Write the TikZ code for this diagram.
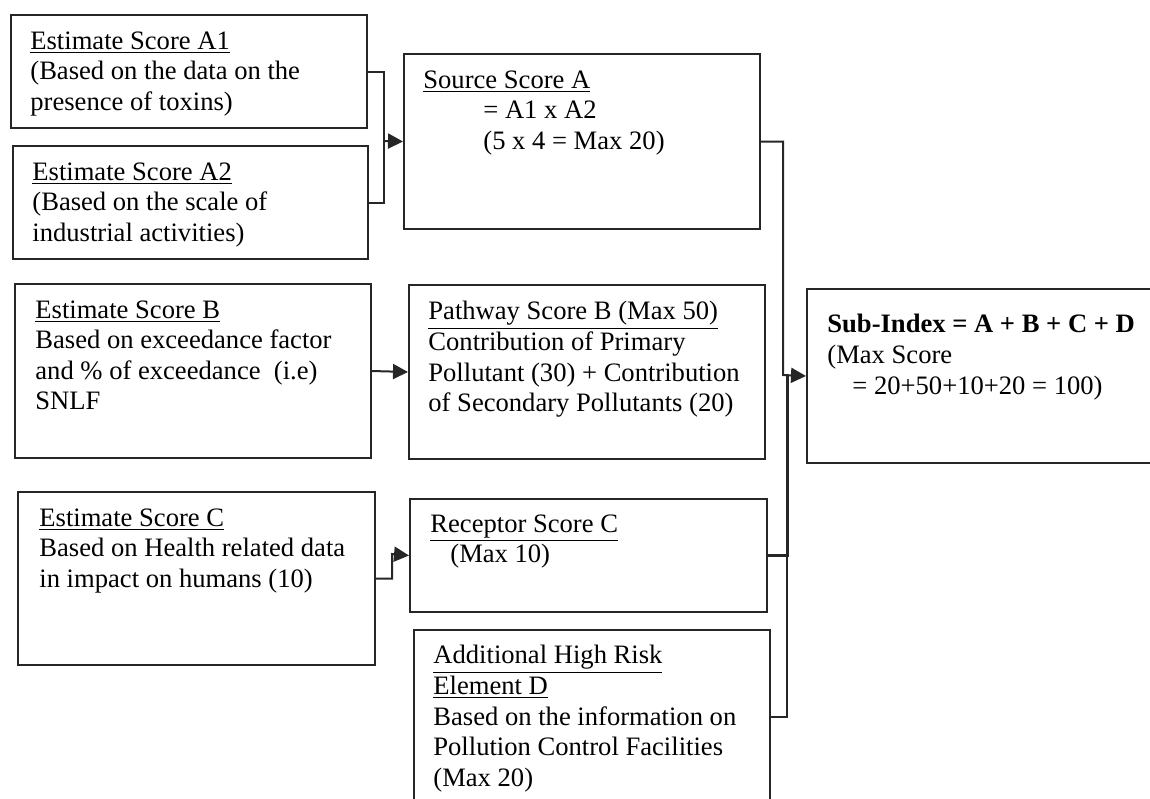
\documentclass[tikz,border=0pt]{standalone}
\usepackage{fontspec}
\setmainfont{Liberation Serif}
\usetikzlibrary{arrows.meta}

\begin{document}
\begin{tikzpicture}
        [x=0.5pt, y=-0.5pt,
        box/.style={draw=black!85, line width=1pt, anchor=north west, inner sep=0pt},
        boxtext/.style={anchor=north west, inner sep=0pt, align=left,
          font=\fontsize{13.3}{15.3}\selectfont},
        link/.style={draw=black!85, line width=1pt},
        arr/.style={link, -{Triangle[length=7.5pt,width=7.5pt]}},
        ]
        \path[use as bounding box, clip] (0,0) rectangle (1150,798);

        % boxes
        \node[box, minimum width=178pt, minimum height=56.5pt] (a1) at (10,14) {};
        \node[box, minimum width=177.5pt, minimum height=56.5pt] (a2) at (12,145) {};
        \node[box, minimum width=178pt, minimum height=87.5pt] (srcA) at (403,53) {};
        \node[box, minimum width=178pt, minimum height=87pt] (b) at (14,283) {};
        \node[box, minimum width=178pt, minimum height=87pt] (pathB) at (408,284) {};
        \node[box, minimum width=180pt, minimum height=87pt] (sub) at (806,288) {};
        \node[box, minimum width=178.5pt, minimum height=86.5pt] (c) at (17,491) {};
        \node[box, minimum width=178.5pt, minimum height=56.5pt] (recC) at (409,498) {};
        \node[box, minimum width=178pt, minimum height=87pt] (d) at (413,629) {};

        % texts
        \node[boxtext] (a1t) at ([shift={(20,17)}]a1.north west)
          {\underline{Estimate Score A1}\\(Based on the data on the\\presence of toxins)};
        \node[boxtext] (a2t) at ([shift={(20,17)}]a2.north west)
          {\underline{Estimate Score A2}\\(Based on the scale of\\industrial activities)};
        \node[boxtext] (srcAt) at ([shift={(20,17)}]srcA.north west)
          {\underline{Source Score A}\\\hspace*{30pt}= A1 x A2\\\hspace*{30pt}(5 x 4 = Max 20)};
        \node[boxtext] (bt) at ([shift={(21,17)}]b.north west)
          {\underline{Estimate Score B}\\Based on exceedance factor\\and \% of exceedance\ \ (i.e)\\SNLF};
        \node[boxtext] (pathBt) at ([shift={(20,17)}]pathB.north west)
          {\underline{Pathway Score B (Max 50)}\\Contribution of Primary\\Pollutant (30) + Contribution\\of Secondary Pollutants (20)};
        \node[boxtext] (subt) at ([shift={(21,26)}]sub.north west)
          {\textbf{Sub-Index = A + B + C + D}\\(Max Score\\\hspace*{12.5pt}= 20+50+10+20 = 100)};
        \node[boxtext] (ct) at ([shift={(22,17)}]c.north west)
          {\underline{Estimate Score C}\\Based on Health related data\\in impact on humans (10)};
        \node[boxtext] (recCt) at ([shift={(21,16)}]recC.north west)
          {\underline{Receptor Score C}\\\hspace*{10pt}(Max 10)};
        \node[boxtext] (dt) at ([shift={(20,16)}]d.north west)
          {\underline{Additional High Risk}\\\underline{Element D}\\Based on the information on\\Pollution Control Facilities\\(Max 20)};

        % connectors
        \coordinate (jA) at (384,141);
        \coordinate (jC) at (392,554);
        \coordinate (jS) at (783,375);
        \coordinate (jS2) at (787,375);
        \draw[link] (a1.east) -| (jA) |- (a2.east);
        \draw[arr] (jA) -- (srcA.west);
        \draw[arr] (b.east) -- (pathB.west);
        \draw[arr] (c.east) -| (jC) -- (recC.west);
        \draw[arr] (srcA.east) -| (jS) -- (sub.west);
        \draw[link, line width=1.5pt] (recC.east) -| (jS2);
        \draw[link] (d.east) -| (jS2);
        \end{tikzpicture}
\end{document}
